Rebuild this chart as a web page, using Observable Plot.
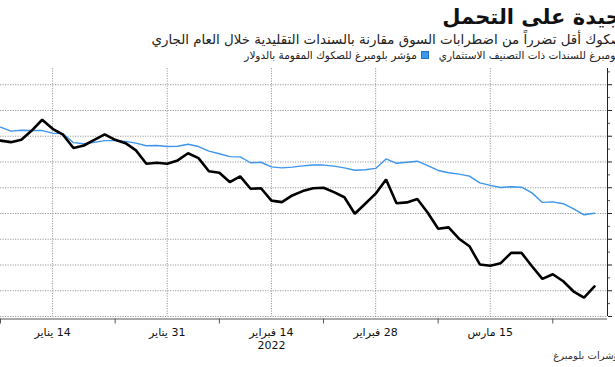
<!DOCTYPE html>
<html lang="ar">
<head>
<meta charset="utf-8">
<script src="https://cdn.jsdelivr.net/npm/d3@7"></script>
<script src="https://cdn.jsdelivr.net/npm/@observablehq/plot@0.6"></script>
<style>
  html, body { margin: 0; padding: 0; width: 615px; height: 367px; overflow: hidden; background: #fff; }
  body { position: relative; font-family: "DejaVu Sans", "Noto Sans", sans-serif; }
  .t { position: absolute; direction: rtl; white-space: nowrap; color: #111; }
  #title { top: 5px; right: -6px; font-size: 21px; font-weight: bold; }
  #subtitle { top: 32px; right: -15px; font-size: 13.4px; color: #222; }
  #legend { top: 49px; right: -48px; font-size: 10.5px; color: #222; }
  #legend .sw { display: inline-block; width: 8px; height: 8px; margin: 0 0 0 4px; vertical-align: 0px; }
  #source { top: 350px; right: -46px; font-size: 10px; color: #333; }
  #chart { position: absolute; top: 60px; left: 0; }
  #chart svg { max-width: none; }
  #chart svg g[aria-label="x-axis tick label"], #chart svg g[aria-label="x-axis tick label"] text { direction: rtl; unicode-bidi: embed; }
</style>
</head>
<body>
<div id="title" class="t">جيدة على التحمل</div>
<div id="subtitle" class="t">الصكوك أقل تضرراً من اضطرابات السوق مقارنة بالسندات التقليدية خلال العام الجاري</div>
<div id="legend" class="t"><span class="sw" style="background:#000"></span>مؤشر بلومبرغ للسندات ذات التصنيف الاستثماري&nbsp;&nbsp;&nbsp;<span class="sw" style="background:#3d95ec;border:1px solid #1f6fc4;width:6px;height:6px"></span>مؤشر بلومبرغ للصكوك المقومة بالدولار</div>
<div id="source" class="t">المصدر: مؤشرات بلومبرغ</div>
<div id="chart"></div>
<script>
const dates = [
  "2022-01-07","2022-01-10","2022-01-11","2022-01-12","2022-01-13","2022-01-14",
  "2022-01-17","2022-01-18","2022-01-19","2022-01-20","2022-01-21",
  "2022-01-24","2022-01-25","2022-01-26","2022-01-27","2022-01-28",
  "2022-01-31","2022-02-01","2022-02-02","2022-02-03","2022-02-04",
  "2022-02-07","2022-02-08","2022-02-09","2022-02-10","2022-02-11",
  "2022-02-14","2022-02-15","2022-02-16","2022-02-17","2022-02-18",
  "2022-02-21","2022-02-22","2022-02-23","2022-02-24","2022-02-25",
  "2022-02-28","2022-03-01","2022-03-02","2022-03-03","2022-03-04",
  "2022-03-07","2022-03-08","2022-03-09","2022-03-10","2022-03-11",
  "2022-03-14","2022-03-15","2022-03-16","2022-03-17","2022-03-18",
  "2022-03-21","2022-03-22","2022-03-23","2022-03-24","2022-03-25",
  "2022-03-28","2022-03-29"
];
// Bloomberg investment-grade bond index (black), % change
const bonds = [
  -2.17,-2.23,-2.14,-1.78,-1.36,-1.71,-1.94,-2.46,-2.36,-2.14,
  -1.93,-2.14,-2.27,-2.55,-3.07,-3.03,-3.07,-2.94,-2.66,-2.85,
  -3.36,-3.42,-3.78,-3.56,-4.04,-4.02,-4.50,-4.56,-4.30,-4.13,
  -4.02,-4.00,-4.17,-4.37,-5.01,-4.62,-4.23,-3.68,-4.60,-4.57,
  -4.44,-4.97,-5.59,-5.54,-5.98,-6.27,-6.98,-7.03,-6.93,-6.53,
  -6.53,-7.05,-7.54,-7.36,-7.63,-8.03,-8.27,-7.83
];
// Bloomberg USD sukuk index (blue), % change
const sukuk = [
  -1.65,-1.80,-1.77,-1.78,-1.78,-1.88,-1.90,-2.25,-2.29,-2.24,
  -2.17,-2.17,-2.20,-2.27,-2.37,-2.36,-2.40,-2.39,-2.31,-2.40,
  -2.58,-2.68,-2.79,-2.80,-3.03,-3.01,-3.19,-3.23,-3.20,-3.15,
  -3.12,-3.12,-3.16,-3.23,-3.32,-3.30,-3.25,-2.88,-3.05,-3.01,
  -2.97,-3.14,-3.33,-3.42,-3.47,-3.55,-3.81,-3.91,-3.99,-3.96,
  -3.98,-4.20,-4.57,-4.55,-4.62,-4.82,-5.05,-4.99
];
const labelDates = ["2022-01-14","2022-01-31","2022-02-14","2022-02-28","2022-03-15"];
const labelTexts = ["14 يناير","31 يناير","14 فبراير","28 فبراير","15 مارس"];
const yearLabel = "2022";
const tickDates = ["2022-01-07","2022-01-24","2022-02-07","2022-02-21","2022-03-08","2022-03-23"];
const yTicks = [-9,-8,-7,-6,-5,-4,-3,-2,-1,0];
const yMinor = [-8.5,-7.5,-6.5,-5.5,-4.5,-3.5,-2.5,-1.5,-0.5,0.5];
const xMax = 58.25;
const yDomain = [-9, 0.63];

const idx = d => dates.indexOf(d);
const rows = dates.map((d, i) => ({i, date: d, bonds: bonds[i], sukuk: sukuk[i]}));
const labelIdx = labelDates.map(idx);
const labelMap = new Map(labelIdx.map((v, k) => [v, labelTexts[k] + (k === 2 ? "\n" + yearLabel : "")]));

const grid = {stroke: "#9a9a9a", strokeOpacity: 1, strokeDasharray: "1.2,1.3", strokeWidth: 1};

const chart = Plot.plot({
  width: 640,
  height: 290,
  marginTop: 8,
  marginBottom: 34,
  marginLeft: 0,
  marginRight: 33,
  style: {fontFamily: "DejaVu Sans, sans-serif", fontSize: "11px", color: "#222", background: "transparent"},
  x: {type: "linear", domain: [0, xMax], axis: null},
  y: {domain: yDomain, axis: null},
  marks: [
    Plot.gridY(yTicks, grid),
    Plot.gridX(labelIdx, grid),
    Plot.ruleY([yDomain[0]], {stroke: "#555", strokeWidth: 1, dy: 2.5}),
    Plot.axisX(tickDates.map(idx), {tickSize: 5, tickFormat: () => "", dy: 2.5, stroke: "#555"}),
    Plot.axisX(labelIdx, {tickSize: 0, tickPadding: 11, tickFormat: v => labelMap.get(v), fill: "#111", fontSize: 11, lineHeight: 1.15}),
    Plot.ruleX([xMax], {stroke: "#222", strokeWidth: 1, y1: yDomain[0], y2: yDomain[1]}),
    Plot.axisY(yTicks, {anchor: "right", tickSize: 4, tickPadding: 6, stroke: "#222", fill: "#111", tickFormat: v => `${v}`}),
    Plot.axisY(yMinor, {anchor: "right", tickSize: 2, tickFormat: () => "", stroke: "#555"}),
    Plot.line(rows, {x: "i", y: "sukuk", stroke: "#3d95ec", strokeWidth: 1.4}),
    Plot.line(rows, {x: "i", y: "bonds", stroke: "#000", strokeWidth: 2.6, strokeLinejoin: "miter"})
  ]
});
document.getElementById("chart").appendChild(chart);
</script>
</body>
</html>
